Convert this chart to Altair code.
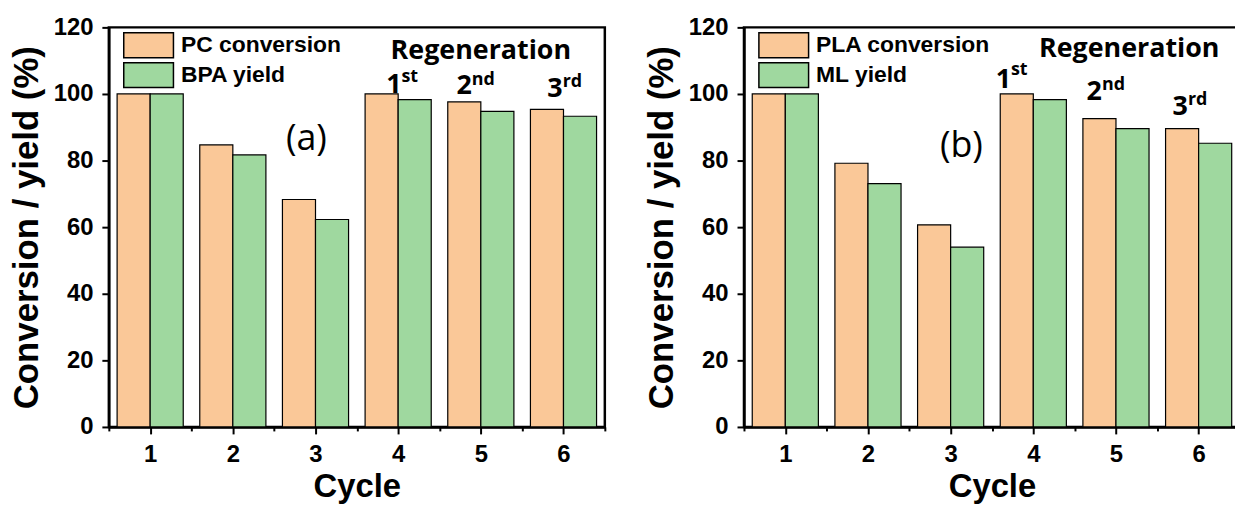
import altair as alt
import pandas as pd

# ---------------- data ----------------
cycles = [1, 2, 3, 4, 5, 6]
pc_conversion = [100, 84.7, 68.3, 100, 97.6, 95.4]
bpa_yield = [100, 81.7, 62.3, 98.3, 94.8, 93.3]
pla_conversion = [100, 79.2, 60.7, 100, 92.6, 89.6]
ml_yield = [100, 73.1, 54.0, 98.3, 89.6, 85.2]

series_a = ["PC conversion", "BPA yield"]
series_b = ["PLA conversion", "ML yield"]
bar_colors = ["#FAC898", "#9FD89F"]

x_tick_values = [0.5, 1, 1.5, 2, 2.5, 3, 3.5, 4, 4.5, 5, 5.5, 6, 6.5]
y_tick_values = [0, 10, 20, 30, 40, 50, 60, 70, 80, 90, 100, 110, 120]

regen_title = ["Regeneration"]
regen_digits = ["1", "2", "3"]
regen_sups = ["st", "nd", "rd"]

# annotation anchors (data units: cycle, %)
ann_a = {
    "regen_x": [5.0], "regen_y": [110.5],
    "dig_x": [4.04, 4.89, 5.99], "dig_y": [100.4, 100.1, 99.1],
    "sup_y": [103.6, 102.8, 102.1],
    "tag": ["(a)"], "tag_x": [2.89], "tag_y": [83.2],
}
ann_b = {
    "regen_x": [5.16], "regen_y": [111.0],
    "dig_x": [3.73, 4.83, 5.87], "dig_y": [101.8, 98.1, 93.6],
    "sup_y": [105.6, 101.1, 96.6],
    "tag": ["(b)"], "tag_x": [3.13], "tag_y": [81.2],
}

AX_FONT = "Liberation Sans"
ANN_FONT = "Open Sans"
PW, PH = 499, 402


def panel(conv, yld, names, ann):
    df = pd.DataFrame({
        "cycle": cycles * 2,
        "series": [names[0]] * len(cycles) + [names[1]] * len(cycles),
        "kind": ["conv"] * len(cycles) + ["yield"] * len(cycles),
        "value": conv + yld,
    })
    xs = alt.Scale(domain=[0.5, 6.5], nice=False, zero=False)
    ys = alt.Scale(domain=[0, 120], nice=False)

    x_axis = alt.Axis(
        values=x_tick_values,
        labelExpr="datum.value % 1 == 0 ? '' + datum.value : ''",
        tickSize={"condition": {"test": "datum.value % 1 != 0", "value": 4}, "value": 7},
        title="Cycle", titleFont=AX_FONT, titleFontSize=33, titleFontWeight="bold",
        titleColor="black", titlePadding=4,
        labelFont=AX_FONT, labelFontSize=24, labelFontWeight="bold", labelColor="black",
        labelPadding=9, labelFlush=False, labelOverlap=False, labelBound=False,
        domainColor="black", domainWidth=2.5, tickColor="black", tickWidth=2,
        grid=False,
    )
    y_axis = alt.Axis(
        values=y_tick_values,
        labelExpr="datum.value % 20 == 0 ? '' + datum.value : ''",
        tickSize={"condition": {"test": "datum.value % 20 != 0", "value": 4}, "value": 7},
        title="Conversion / yield (%)", titleFont=AX_FONT, titleFontSize=35,
        titleFontWeight="bold", titleColor="black", titlePadding=9,
        labelFont=AX_FONT, labelFontSize=24, labelFontWeight="bold", labelColor="black",
        labelPadding=9, labelFlush=False, labelOverlap=False, labelBound=False,
        domainColor="black", domainWidth=2.5, tickColor="black", tickWidth=2,
        grid=False,
    )
    legend = alt.Legend(
        title=None, orient="none", legendX=26.5, legendY=4.5, padding=0,
        symbolType="M-2,-1H2V1H-2Z", symbolSize=625,
        symbolStrokeColor="black", symbolStrokeWidth=1.5, symbolOpacity=1,
        labelFont=AX_FONT, labelFontSize=23, labelFontWeight="bold",
        labelColor="black", labelOffset=19, labelLimit=0, rowPadding=-1,
    )

    bars = alt.Chart(df).transform_calculate(
        x0="datum.cycle - (datum.kind == 'conv' ? 0.4 : 0)",
        x1="datum.cycle + (datum.kind == 'conv' ? 0 : 0.4)",
    ).mark_bar(stroke="black", strokeWidth=1.2, opacity=1).encode(
        x=alt.X("x0:Q", scale=xs, axis=x_axis),
        x2="x1:Q",
        y=alt.Y("value:Q", scale=ys, axis=y_axis),
        y2=alt.datum(0),
        color=alt.Color("series:N", scale=alt.Scale(domain=names, range=bar_colors),
                        legend=legend, sort=names),
    )

    def txt(xv, yv, tv, size, weight, align):
        d = pd.DataFrame({"x": xv, "y": yv, "t": tv})
        return alt.Chart(d).mark_text(
            font=ANN_FONT, fontWeight=weight, fontSize=size, align=align,
            baseline="alphabetic", color="black"
        ).encode(x=alt.X("x:Q", scale=xs), y=alt.Y("y:Q", scale=ys), text="t:N")

    regen = txt(ann["regen_x"], ann["regen_y"], regen_title, 27, "bold", "center")
    digits = txt(ann["dig_x"], ann["dig_y"], regen_digits, 27, "bold", "right")
    sups = txt(ann["dig_x"], ann["sup_y"], regen_sups, 18, "bold", "left")
    tag = txt(ann["tag_x"], ann["tag_y"], ann["tag"], 36, "normal", "center")

    return alt.layer(bars, regen, digits, sups, tag).properties(width=PW, height=PH)


pa = panel(pc_conversion, bpa_yield, series_a, ann_a)
pb = panel(pla_conversion, ml_yield, series_b, ann_b)

chart = alt.hconcat(pa, pb, spacing=35).resolve_scale(color="independent").properties(
    padding={"left": 7.5, "top": 12, "right": -8, "bottom": 0},
    background="white",
).configure_view(stroke="black", strokeWidth=2.5)

chart.save("out.html", embed_options={"renderer": "svg", "actions": False})
